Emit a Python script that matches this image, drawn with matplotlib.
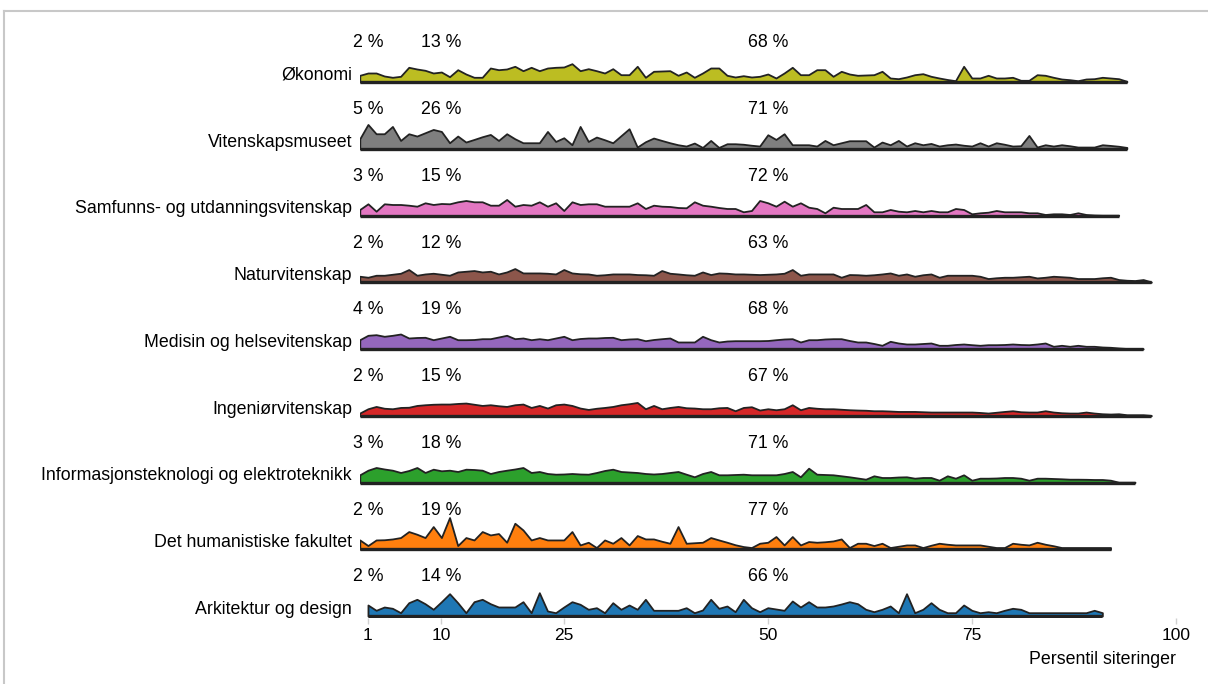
import numpy as np
import matplotlib.pyplot as plt

plt.rcParams['font.family'] = ['Liberation Sans', 'DejaVu Sans']

fakulteter = ['Økonomi', 'Vitenskapsmuseet', 'Samfunns- og utdanningsvitenskap',
              'Naturvitenskap', 'Medisin og helsevitenskap', 'Ingeniørvitenskap',
              'Informasjonsteknologi og elektroteknikk', 'Det humanistiske fakultet',
              'Arkitektur og design']
farger = ['#bcbd22', '#7f7f7f', '#e377c2', '#8c564b', '#9467bd',
          '#d62728', '#2ca02c', '#ff7f0e', '#1f77b4']

# andel publikasjoner (%) blant topp 1 %, topp 10 % og topp 50 %
topp1 = [2, 5, 3, 2, 4, 2, 3, 2, 2]
topp10 = [13, 26, 15, 12, 19, 15, 18, 19, 14]
topp50 = [68, 71, 72, 63, 68, 67, 71, 77, 66]

# forste persentil i hver serie
start = [0, 0, 0, 0, 0, 0, 0, 0, 1]

okonomi = [0.67, 0.9, 0.9, 0.6, 0.47, 0.57, 1.47, 1.3, 1.17, 0.9,
           1.0, 0.53, 1.23, 0.8, 0.47, 0.47, 1.4, 1.23, 1.3, 1.57,
           1.13, 1.47, 1.13, 1.4, 1.47, 1.5, 1.83, 1.13, 1.33, 1.13,
           0.9, 1.33, 0.73, 0.73, 1.57, 0.47, 1.07, 1.1, 1.13, 0.67,
           1.0, 0.47, 0.9, 1.4, 1.4, 0.67, 0.5, 0.63, 0.5, 0.57,
           0.8, 0.4, 0.9, 1.47, 0.73, 0.73, 1.23, 1.23, 0.57, 1.07,
           0.8, 0.67, 0.7, 0.73, 1.07, 0.4, 0.33, 0.5, 0.73, 0.83,
           0.57, 0.4, 0.25, 0.13, 1.57, 0.4, 0.4, 0.67, 0.4, 0.4,
           0.47, 0.17, 0.17, 0.73, 0.67, 0.47, 0.3, 0.23, 0.13, 0.3,
           0.33, 0.47, 0.4, 0.33, 0.07]
museet = [1.0, 2.43, 1.5, 1.5, 2.23, 0.83, 1.5, 1.27, 1.6, 1.93,
          1.73, 0.6, 1.27, 0.67, 0.93, 1.2, 1.43, 0.83, 1.5, 1.0,
          0.6, 0.6, 0.6, 1.73, 0.73, 1.1, 0.4, 2.23, 0.73, 1.17,
          0.9, 0.6, 1.3, 2.0, 0.17, 0.7, 1.07, 0.83, 0.6, 0.4,
          0.27, 0.57, 0.13, 0.83, 0.13, 0.5, 0.5, 0.45, 0.35, 0.27,
          1.4, 0.93, 1.5, 0.4, 0.4, 0.4, 0.27, 0.83, 0.4, 0.6,
          0.8, 0.8, 0.8, 0.17, 0.67, 0.4, 0.83, 0.27, 0.6, 0.4,
          0.53, 0.27, 0.4, 0.47, 0.35, 0.27, 0.6, 0.27, 0.6, 0.45,
          0.27, 0.3, 1.33, 0.17, 0.4, 0.27, 0.4, 0.3, 0.17, 0.17,
          0.17, 0.4, 0.33, 0.25, 0.13]
samfunn = [0.6, 1.17, 0.43, 1.17, 1.1, 1.1, 1.03, 0.93, 1.27, 1.1,
           1.2, 1.17, 1.37, 1.5, 1.37, 1.37, 1.03, 1.03, 1.6, 0.93,
           1.1, 1.03, 1.37, 0.93, 1.27, 0.5, 1.37, 1.1, 1.17, 1.17,
           0.93, 0.93, 0.93, 0.93, 1.27, 0.7, 1.03, 0.93, 0.9, 0.8,
           0.77, 1.37, 1.03, 0.93, 0.8, 0.7, 0.7, 0.37, 0.5, 1.5,
           1.27, 0.93, 1.43, 0.93, 1.27, 0.83, 0.7, 0.27, 0.83, 0.7,
           0.7, 0.7, 1.1, 0.37, 0.37, 0.6, 0.43, 0.37, 0.5, 0.37,
           0.5, 0.37, 0.37, 0.7, 0.6, 0.17, 0.27, 0.33, 0.5, 0.37,
           0.37, 0.37, 0.27, 0.27, 0.1, 0.17, 0.17, 0.1, 0.27, 0.1,
           0.05, 0.03, 0.03, 0.03]
natur = [0.6, 0.5, 0.7, 0.7, 0.8, 0.9, 1.27, 0.7, 0.83, 0.9,
         0.8, 0.7, 1.03, 1.1, 1.17, 1.03, 1.1, 0.83, 1.03, 1.37,
         0.93, 0.93, 0.93, 0.9, 0.83, 1.27, 0.93, 0.85, 0.83, 0.7,
         0.75, 0.83, 0.83, 0.83, 0.77, 0.75, 0.7, 1.17, 0.9, 0.83,
         0.75, 0.7, 1.03, 0.77, 0.93, 0.9, 0.83, 0.83, 0.8, 0.77,
         0.8, 0.83, 0.9, 1.27, 0.7, 0.83, 0.83, 0.83, 0.83, 0.5,
         0.77, 0.75, 0.7, 0.75, 0.83, 0.93, 0.7, 0.83, 0.6, 0.75,
         0.83, 0.5, 0.7, 0.7, 0.7, 0.7, 0.6, 0.37, 0.45, 0.5,
         0.5, 0.55, 0.6, 0.43, 0.5, 0.6, 0.55, 0.5, 0.37, 0.37,
         0.37, 0.45, 0.5, 0.27, 0.2, 0.17, 0.27, 0.03]
medisin = [0.93, 1.37, 1.43, 1.27, 1.37, 1.5, 1.1, 1.15, 1.17, 0.93,
           1.1, 1.27, 0.93, 0.93, 0.95, 1.03, 1.03, 1.2, 1.37, 1.03,
           1.1, 0.93, 1.03, 0.93, 1.1, 1.27, 0.93, 1.05, 1.1, 1.1,
           1.15, 1.17, 0.93, 1.0, 1.03, 0.83, 0.95, 1.03, 1.1, 0.7,
           0.7, 0.7, 1.27, 0.93, 0.7, 0.8, 0.83, 0.83, 0.83, 0.83,
           0.85, 0.93, 1.0, 1.03, 0.7, 0.93, 0.93, 1.0, 1.03, 1.03,
           0.85, 0.7, 0.7, 0.55, 0.37, 0.77, 0.6, 0.5, 0.5, 0.55,
           0.6, 0.37, 0.37, 0.45, 0.5, 0.43, 0.37, 0.43, 0.43, 0.45,
           0.5, 0.45, 0.43, 0.5, 0.6, 0.27, 0.37, 0.27, 0.37, 0.27,
           0.27, 0.2, 0.17, 0.1, 0.05, 0.03, 0.03]
ingenior = [0.27, 0.7, 0.93, 0.75, 0.7, 0.83, 0.85, 1.03, 1.1, 1.15,
            1.17, 1.17, 1.23, 1.27, 1.15, 1.03, 1.1, 1.0, 0.93, 1.1,
            1.17, 0.83, 1.03, 0.77, 1.1, 1.17, 1.03, 0.77, 0.63, 0.75,
            0.83, 0.93, 1.1, 1.2, 1.33, 0.7, 1.03, 0.7, 0.83, 0.93,
            0.8, 0.77, 0.7, 0.7, 0.8, 0.83, 0.5, 0.83, 0.9, 0.57,
            0.7, 0.6, 0.7, 1.1, 0.6, 0.83, 0.75, 0.7, 0.7, 0.65,
            0.6, 0.57, 0.55, 0.5, 0.5, 0.47, 0.43, 0.43, 0.43, 0.4,
            0.37, 0.37, 0.37, 0.37, 0.37, 0.37, 0.33, 0.27, 0.35, 0.43,
            0.5, 0.4, 0.37, 0.37, 0.5, 0.37, 0.3, 0.27, 0.27, 0.37,
            0.27, 0.2, 0.17, 0.2, 0.1, 0.1, 0.1, 0.03]
ikt = [0.77, 1.23, 1.5, 1.35, 1.23, 1.0, 1.2, 1.5, 1.0, 1.33,
       1.17, 1.23, 1.1, 1.33, 1.3, 1.23, 0.9, 1.1, 1.23, 1.35,
       1.5, 1.0, 1.1, 0.9, 0.83, 0.85, 0.9, 0.85, 0.83, 1.0,
       1.2, 1.33, 1.1, 1.05, 1.0, 0.9, 0.85, 0.9, 1.0, 1.1,
       0.83, 0.57, 0.9, 1.1, 0.77, 0.77, 0.8, 0.83, 0.77, 0.77,
       0.77, 0.77, 0.9, 1.1, 0.57, 1.43, 0.83, 0.8, 0.77, 0.67,
       0.57, 0.45, 0.33, 0.67, 0.5, 0.5, 0.55, 0.57, 0.43, 0.5,
       0.5, 0.23, 0.67, 0.43, 0.77, 0.23, 0.43, 0.43, 0.45, 0.5,
       0.5, 0.43, 0.23, 0.43, 0.43, 0.4, 0.37, 0.33, 0.33, 0.32,
       0.3, 0.3, 0.23, 0.03, 0.03, 0.03]
human = [0.93, 0.37, 0.93, 0.95, 1.03, 1.17, 1.77, 1.5, 1.17, 2.27,
         1.17, 3.17, 0.37, 1.17, 0.93, 1.77, 1.43, 1.57, 0.7, 2.6,
         1.93, 0.93, 1.17, 0.93, 0.93, 0.93, 1.77, 0.43, 0.7, 0.17,
         0.93, 0.6, 1.17, 0.43, 1.37, 1.03, 1.03, 0.8, 0.6, 2.27,
         0.6, 0.65, 0.7, 1.17, 0.93, 0.7, 0.45, 0.27, 0.17, 0.6,
         0.7, 1.27, 0.43, 1.27, 0.43, 0.77, 0.7, 0.75, 0.83, 1.03,
         0.17, 0.6, 0.6, 0.37, 0.6, 0.17, 0.3, 0.43, 0.43, 0.17,
         0.4, 0.6, 0.5, 0.43, 0.43, 0.43, 0.43, 0.3, 0.17, 0.17,
         0.6, 0.5, 0.43, 0.7, 0.5, 0.35, 0.17, 0.17, 0.17, 0.17,
         0.17, 0.17, 0.17]
arkitektur = [1.1, 0.57, 0.9, 0.77, 0.33, 1.33, 1.67, 1.23, 0.67, 1.43,
              2.23, 1.33, 0.33, 1.43, 1.67, 1.23, 0.9, 0.9, 0.9, 1.43,
              0.33, 2.33, 0.5, 0.33, 0.9, 1.43, 1.17, 0.67, 0.83, 0.33,
              1.33, 0.67, 1.1, 0.67, 1.67, 0.57, 0.57, 0.57, 0.57, 0.83,
              0.33, 0.6, 1.67, 0.77, 1.0, 0.43, 1.67, 0.83, 0.43, 0.83,
              0.7, 0.57, 1.5, 0.9, 1.43, 0.9, 0.9, 1.0, 1.2, 1.43,
              1.23, 0.67, 0.43, 0.67, 1.0, 0.33, 2.23, 0.33, 0.67, 1.33,
              0.67, 0.33, 0.33, 1.1, 0.57, 0.33, 0.43, 0.33, 0.57, 0.77,
              0.67, 0.33, 0.33, 0.33, 0.33, 0.33, 0.33, 0.33, 0.33, 0.57,
              0.33]

serier = [okonomi, museet, samfunn, natur, medisin, ingenior, ikt, human, arkitektur]

W, H = 1208, 684
fig = plt.figure(figsize=(W / 100, H / 100), dpi=100)
# akse: x=0 ved 359.8 px, 8.16 px per persentil, grunnlinje nederste rad ved 616 px
ax = fig.add_axes([359.8 / W, (H - 618) / H, 816 / W, 598 / H])
rad = 66.75
ax.set_xlim(0, 100)
ax.set_ylim(-2 / rad, 596 / rad)
skala = 10 / rad

fs = 12.8
n = len(fakulteter)
for i in range(n):
    k = n - 1 - i
    v = np.array(serier[i])
    x = start[i] + np.arange(len(v))
    ax.fill_between(x, k, k + v * skala, facecolor=farger[i],
                    edgecolor='#222222', linewidth=1.3, zorder=2)
    ax.plot([x[0], x[-1]], [k, k], color='#222222', lw=2.4, zorder=3,
            solid_capstyle='butt')
    ax.text(-0.95, k + 0.1, fakulteter[i], ha='right', va='center', fontsize=fs)
    for xp, p in zip([1, 10, 50], [topp1[i], topp10[i], topp50[i]]):
        ax.text(xp, k + 0.585, f'{p} %', ha='center', va='center', fontsize=fs)

ax.set_xticks([1, 10, 25, 50, 75, 100])
ax.tick_params(axis='x', length=4, width=1, color='#d0d0d0', pad=3, labelsize=12.5)
ax.set_yticks([])
for s in ax.spines.values():
    s.set_visible(False)
ax.text(100.0, -42 / 598, 'Persentil siteringer', transform=ax.get_xaxis_transform(),
        ha='right', va='center', fontsize=fs)

# ramme fra skjermbildet
fig.add_artist(plt.Line2D([4 / W, 1], [1 - 11 / H, 1 - 11 / H], color='#c8c8c8', lw=1.5))
fig.add_artist(plt.Line2D([4 / W, 4 / W], [0, 1 - 11 / H], color='#c8c8c8', lw=1.5))

fig.savefig('out.png', dpi=100)
